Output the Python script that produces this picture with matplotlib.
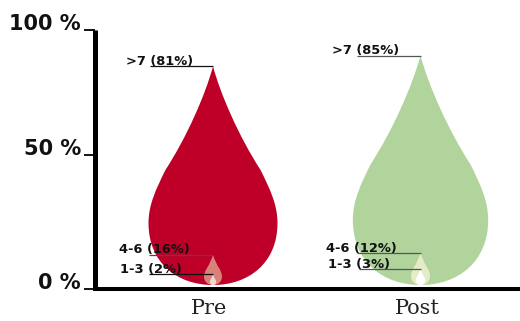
import numpy as np
import matplotlib
matplotlib.use("Agg")
import matplotlib.pyplot as plt
from matplotlib.patches import PathPatch
from matplotlib.path import Path
from matplotlib.transforms import ScaledTranslation

# Share of readings per frequency band, before and after
groups = ["Pre", "Post"]
band_names = [">7", "4-6", "1-3"]
pre_values = [81, 16, 2]
post_values = [85, 12, 3]

y_tick_positions = [0, 51.8, 100]
y_tick_labels = ["0 %", "50 %", "100 %"]

# Styling for each nested drop
pre_colors = ["#BE0028", "#D98378", "#F0D8D2"]
post_colors = ["#B0D49C", "#E4EBC6", "#FFFFFF"]
pre_line_colors = ["#111111", "#6E3A48", "#111111"]
post_line_colors = ["#555555", "#555555", "#555555"]
pre_label_dx = [-87, -94, -93]
post_label_dx = [-89, -95, -92]
pre_label_dy = [1, 2, 1]
post_label_dy = [2, 1, 1]
pre_line_start = [-63, -64, -64]
post_line_start = [-64, -64, -62]
inner_scale = [2.93, 3.6]

W, H = 520, 321
LEFT, BOTTOM, TOP = 94.8, 289, 30
DROP_BASE = 1.54
OUTER_SCALE = 1.042
ASPECT = 0.295

fig = plt.figure(figsize=(W / 100, H / 100), dpi=100, facecolor="white")
ax = fig.add_axes([LEFT / W, (H - BOTTOM) / H, (W - LEFT) / W, (BOTTOM - TOP) / H])
ax.set_xlim((LEFT - 213) / 207.5, (W - 213) / 207.5)
ax.set_ylim(0, 100)
px_x = 207.5
px_y = (BOTTOM - TOP) / 100

# Teardrop outline in unit coordinates: half width against height
right_side = [
    (0.12, 0.87), (0.40, 0.68), (0.74, 0.525),
    (0.88, 0.44), (1, 0.37), (1, 0.283),
    (1, 0.10), (0.55, 0), (0, 0),
]
left_side = [(-u, v) for u, v in right_side[-2::-1]] + [(0, 1)]
unit_verts = np.array([(0, 1)] + right_side + left_side + [(0, 1)])
unit_codes = [Path.MOVETO] + [Path.CURVE4] * 18 + [Path.CLOSEPOLY]


def add_drop(center, height, color):
    half_width = height * px_y * ASPECT / px_x
    verts = unit_verts * [half_width, height] + [center, DROP_BASE]
    ax.add_patch(PathPatch(Path(verts, unit_codes), facecolor=color, edgecolor="none", zorder=2))


series = [
    (pre_values, pre_colors, pre_line_colors, pre_label_dx, pre_label_dy, pre_line_start),
    (post_values, post_colors, post_line_colors, post_label_dx, post_label_dy, post_line_start),
]
for i, (values, colors, line_colors, dxs, dys, starts) in enumerate(series):
    for j, value in enumerate(values):
        height = value * OUTER_SCALE if j == 0 else inner_scale[i] * np.sqrt(value)
        add_drop(i, height, colors[j])
        tip = DROP_BASE + height
        ax.text(i + dxs[j] / px_x, tip + dys[j] / px_y, f"{band_names[j]} ({value}%)",
                ha="left", va="baseline", fontsize=9.4, fontweight="bold",
                family="DejaVu Sans", color="#111111", zorder=4)
        ax.plot([i + starts[j] / px_x, i], [tip, tip], color=line_colors[j], lw=0.9,
                solid_capstyle="butt", zorder=3)

for side in ("top", "right"):
    ax.spines[side].set_visible(False)
ax.spines["left"].set_linewidth(3.6)
ax.spines["bottom"].set_linewidth(2.9)
ax.spines["left"].set_capstyle("butt")

ax.set_yticks(y_tick_positions)
ax.set_yticklabels(y_tick_labels, fontsize=15, fontweight="bold", family="DejaVu Sans",
                   color="#111111", va="baseline")
ax.tick_params(axis="y", length=8, width=1.3, pad=2, color="black")

ax.set_xticks([0, 1])
ax.set_xticklabels(groups, fontsize=15, family="DejaVu Serif", color="#222222")
ax.tick_params(axis="x", length=0, pad=7)
shift = ScaledTranslation(-3.5 / 100, 0, fig.dpi_scale_trans)
for label in ax.get_xticklabels():
    label.set_transform(label.get_transform() + shift)

fig.savefig("out.png", dpi=100)
